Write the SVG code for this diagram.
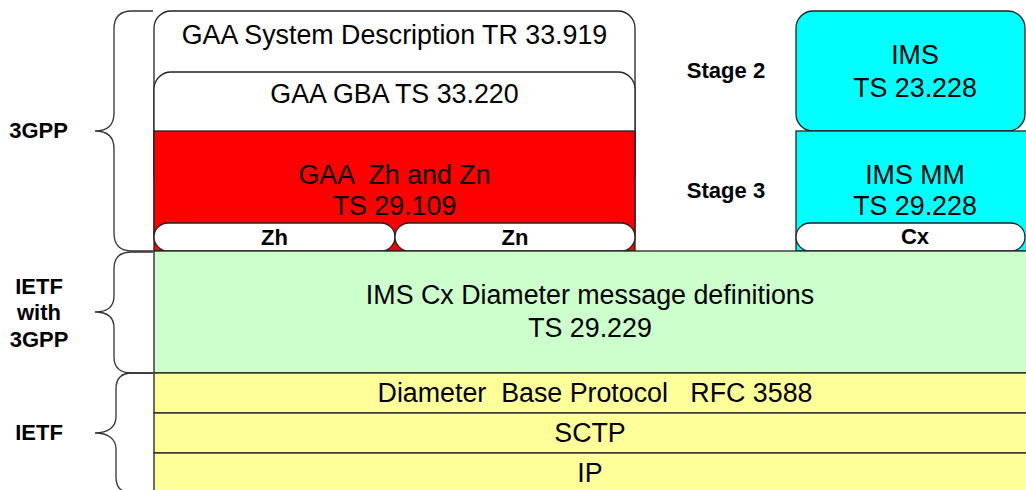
<svg xmlns="http://www.w3.org/2000/svg" width="1026" height="490" viewBox="0 0 1026 490">
<style>
.box{stroke:#222;stroke-width:1.3}
.t{font-family:"Liberation Sans",Arial,sans-serif;font-size:26.8px;fill:#000;text-anchor:middle;white-space:pre}
.b{font-family:"Liberation Sans",Arial,sans-serif;font-size:22px;font-weight:bold;fill:#000;text-anchor:middle}
.pill{fill:#fff;stroke:#222;stroke-width:1.3}
.brace{fill:none;stroke:#333;stroke-width:1.3}
</style>
<rect width="1026" height="490" fill="#fff"/>
<g id="connectors">
<path class="brace" d="M153,11 H132 C120,11 114,17 114,29 V113 C114,125 108,131 95,131 C108,131 114,137 114,149 V233 C114,245 120,251 132,251 H153"/>
<path class="brace" d="M153,252 H132 C120,252 114,258 114,268 V296 C114,306 108,312 95,312 C108,312 114,318 114,328 V357 C114,367 120,373 132,373 H153"/>
<path class="brace" d="M153,373 H132 C120,373 116,379 116,389 V417 C116,427 108,433 95,433 C108,433 116,439 116,449 V477 C116,487 120,493 132,493 H153"/>
</g>
<g id="gaa-sysdesc">
<rect class="box" x="154" y="11" width="481" height="240" rx="17" fill="#fff"/>
<text class="t" x="394.5" y="44">GAA System Description TR 33.919</text>
</g>
<g id="gaa-gba">
<rect class="box" x="154" y="72" width="481" height="120" rx="17" fill="#fff"/>
<text class="t" x="394.5" y="103">GAA GBA TS 33.220</text>
</g>
<g id="gaa-zhzn">
<rect class="box" x="154" y="131" width="481" height="120" fill="#ff0000"/>
<text class="t" x="394.5" y="184">GAA  Zh and Zn</text>
<text class="t" x="394.5" y="215">TS 29.109</text>
</g>
<g id="zh">
<rect class="pill" x="154" y="223" width="241" height="28" rx="14"/>
<text class="b" x="274.5" y="245">Zh</text>
</g>
<g id="zn">
<rect class="pill" x="395" y="223" width="240" height="28" rx="14"/>
<text class="b" x="515" y="245">Zn</text>
</g>
<g id="ims">
<rect class="box" x="796" y="11" width="229" height="120" rx="17" fill="#00ffff"/>
<text class="t" x="915" y="64">IMS</text>
<text class="t" x="915" y="97">TS 23.228</text>
</g>
<g id="ims-mm">
<rect class="box" x="796" y="131" width="240" height="120" fill="#00ffff"/>
<text class="t" x="915" y="184">IMS MM</text>
<text class="t" x="915" y="215">TS 29.228</text>
</g>
<g id="cx">
<rect class="pill" x="796" y="223" width="229" height="28" rx="14"/>
<text class="b" x="915" y="244">Cx</text>
</g>
<g id="stage2"><text class="b" x="726" y="78">Stage 2</text></g>
<g id="stage3"><text class="b" x="726" y="198">Stage 3</text></g>
<g id="ims-cx-diameter">
<rect class="box" x="154" y="251" width="890" height="122" fill="#ccffcc"/>
<text class="t" x="590" y="304">IMS Cx Diameter message definitions</text>
<text class="t" x="590" y="337">TS 29.229</text>
</g>
<g id="diameter-base">
<rect class="box" x="154" y="373" width="890" height="40" fill="#ffff99"/>
<text class="t" x="595" y="402">Diameter  Base Protocol   RFC 3588</text>
</g>
<g id="sctp">
<rect class="box" x="154" y="413" width="890" height="40" fill="#ffff99"/>
<text class="t" x="590" y="442">SCTP</text>
</g>
<g id="ip">
<rect class="box" x="154" y="453" width="890" height="45" fill="#ffff99"/>
<text class="t" x="590" y="482">IP</text>
</g>
<g id="label-3gpp"><text class="b" x="38.5" y="138">3GPP</text></g>
<g id="label-ietf-3gpp">
<text class="b" x="39" y="294">IETF</text>
<text class="b" x="39" y="320">with</text>
<text class="b" x="39" y="347">3GPP</text>
</g>
<g id="label-ietf"><text class="b" x="39" y="440">IETF</text></g>
</svg>
